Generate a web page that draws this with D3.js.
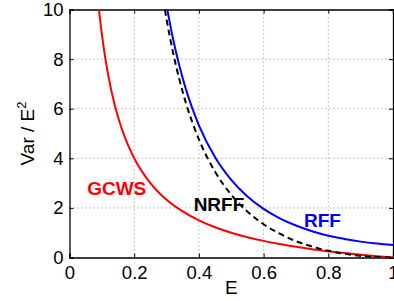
<!DOCTYPE html>
<html>
<head>
<meta charset="utf-8">
<script src="https://cdn.jsdelivr.net/npm/d3@7"></script>
<style>
  body { margin: 0; background: #fff; }
  text { font-family: "Liberation Sans", Arial, sans-serif; }
</style>
</head>
<body>
<div class="chart"></div>
<script>
// values
let gcwsE = [0.09, 0.1, 0.12, 0.14, 0.16, 0.18, 0.2, 0.25, 0.3, 0.35, 0.4, 0.45, 0.5, 0.55, 0.6, 0.65, 0.7, 0.75, 0.8, 0.85, 0.9, 0.95, 1.0];
let gcwsV = [10.1, 9.0, 7.33, 6.14, 5.25, 4.56, 4.0, 3.0, 2.33, 1.86, 1.5, 1.22, 1.0, 0.82, 0.67, 0.54, 0.43, 0.33, 0.25, 0.18, 0.11, 0.05, 0.0];

let rffE = [0.3, 0.32, 0.34, 0.36, 0.38, 0.4, 0.45, 0.5, 0.55, 0.6, 0.65, 0.7, 0.75, 0.8, 0.85, 0.9, 0.95, 1.0];
let rffV = [10.16, 8.82, 7.71, 6.78, 6.0, 5.33, 4.04, 3.13, 2.46, 1.96, 1.58, 1.29, 1.06, 0.88, 0.75, 0.64, 0.56, 0.5];

let nrffE = [0.29, 0.3, 0.32, 0.34, 0.36, 0.38, 0.4, 0.45, 0.5, 0.55, 0.6, 0.65, 0.7, 0.75, 0.8, 0.85, 0.9, 0.95, 1.0];
let nrffV = [10.39, 9.61, 8.27, 7.16, 6.22, 5.44, 4.76, 3.46, 2.53, 1.85, 1.34, 0.96, 0.66, 0.44, 0.27, 0.15, 0.06, 0.02, 0.0];

let xTicks = [0, 0.2, 0.4, 0.6, 0.8, 1];
let yTicks = [0, 2, 4, 6, 8, 10];
let xTickLabels = ["0", "0.2", "0.4", "0.6", "0.8", "1"];
let yTickLabels = ["0", "2", "4", "6", "8", "10"];

let margin = { top: 9.5, right: 1, bottom: 43.5, left: 69.5 };
let width = 394 - margin.left - margin.right;
let height = 301 - margin.top - margin.bottom;

let svg = d3.select(".chart")
  .append("svg")
  .attr("width", 394)
  .attr("height", 301);

let g = svg.append("g")
  .attr("transform", "translate(" + margin.left + "," + margin.top + ")");

let x = d3.scaleLinear().domain([0, 1]).range([0, width]);
let y = d3.scaleLinear().domain([0, 10]).range([height, 0]);

// dotted grid
g.append("g")
  .selectAll("line")
  .data(xTicks.slice(1, -1))
  .join("line")
  .attr("x1", d => x(d)).attr("x2", d => x(d))
  .attr("y1", 0).attr("y2", height)
  .attr("stroke", "#8a8a8a")
  .attr("stroke-width", 1)
  .attr("stroke-dasharray", "1,3");

g.append("g")
  .selectAll("line")
  .data(yTicks.slice(1, -1))
  .join("line")
  .attr("x1", 0).attr("x2", width)
  .attr("y1", d => y(d)).attr("y2", d => y(d))
  .attr("stroke", "#8a8a8a")
  .attr("stroke-width", 1)
  .attr("stroke-dasharray", "1,3");

// axes, matlab style: ticks inward
g.append("g")
  .attr("transform", "translate(0," + height + ")")
  .call(d3.axisBottom(x).tickValues(xTicks).tickSize(-4).tickPadding(8)
    .tickFormat((d, i) => xTickLabels[i]));
g.append("g")
  .call(d3.axisLeft(y).tickValues(yTicks).tickSize(-4).tickPadding(6)
    .tickFormat((d, i) => yTickLabels[i]));
g.append("g")
  .call(d3.axisTop(x).tickValues(xTicks).tickSize(-4).tickFormat(""));
g.append("g")
  .attr("transform", "translate(" + width + ",0)")
  .call(d3.axisRight(y).tickValues(yTicks).tickSize(-4).tickFormat(""));

g.selectAll(".domain").attr("stroke", "#000").attr("stroke-width", 1.3);
g.selectAll(".tick line").attr("stroke", "#000");
g.selectAll(".tick text")
  .attr("font-size", 18.5)
  .attr("fill", "#000")
  .style("font-family", "'Liberation Sans', Arial, sans-serif");

// curves
g.append("clipPath").attr("id", "plotclip")
  .append("rect").attr("width", width).attr("height", height);

let line = d3.line()
  .x(d => x(d[0]))
  .y(d => y(d[1]))
  .curve(d3.curveMonotoneX);

let series = [
  { name: "GCWS", e: gcwsE, v: gcwsV, color: "#ff0000", dash: null },
  { name: "RFF", e: rffE, v: rffV, color: "#0000ff", dash: null },
  { name: "NRFF", e: nrffE, v: nrffV, color: "#000000", dash: "6,4" }
];

series.forEach(function(s) {
  let pts = s.e.map((e, i) => [e, s.v[i]]);
  g.append("path")
    .datum(pts)
    .attr("clip-path", "url(#plotclip)")
    .attr("fill", "none")
    .attr("stroke", s.color)
    .attr("stroke-width", 2)
    .attr("stroke-dasharray", s.dash)
    .attr("d", line);
});

// curve labels
let labels = [
  { text: "GCWS", ex: 0.146, vy: 2.8, color: "#ff0000" },
  { text: "NRFF", ex: 0.462, vy: 2.15, color: "#000000" },
  { text: "RFF", ex: 0.782, vy: 1.5, color: "#0000ff" }
];
g.selectAll(".lbl")
  .data(labels)
  .join("text")
  .attr("class", "lbl")
  .attr("x", d => x(d.ex))
  .attr("y", d => y(d.vy))
  .attr("text-anchor", "middle")
  .attr("dy", "0.35em")
  .attr("font-size", 19)
  .attr("font-weight", "bold")
  .attr("fill", d => d.color)
  .text(d => d.text);

// axis titles
svg.append("text")
  .attr("x", margin.left + width / 2)
  .attr("y", 294)
  .attr("text-anchor", "middle")
  .attr("font-size", 19)
  .text("E");

let yt = svg.append("text")
  .attr("transform", "translate(34," + (margin.top + height / 2) + ") rotate(-90)")
  .attr("text-anchor", "middle")
  .attr("font-size", 19);
yt.append("tspan").text("Var / E");
yt.append("tspan").attr("dy", -8).attr("font-size", 13).text("2");
</script>
</body>
</html>
